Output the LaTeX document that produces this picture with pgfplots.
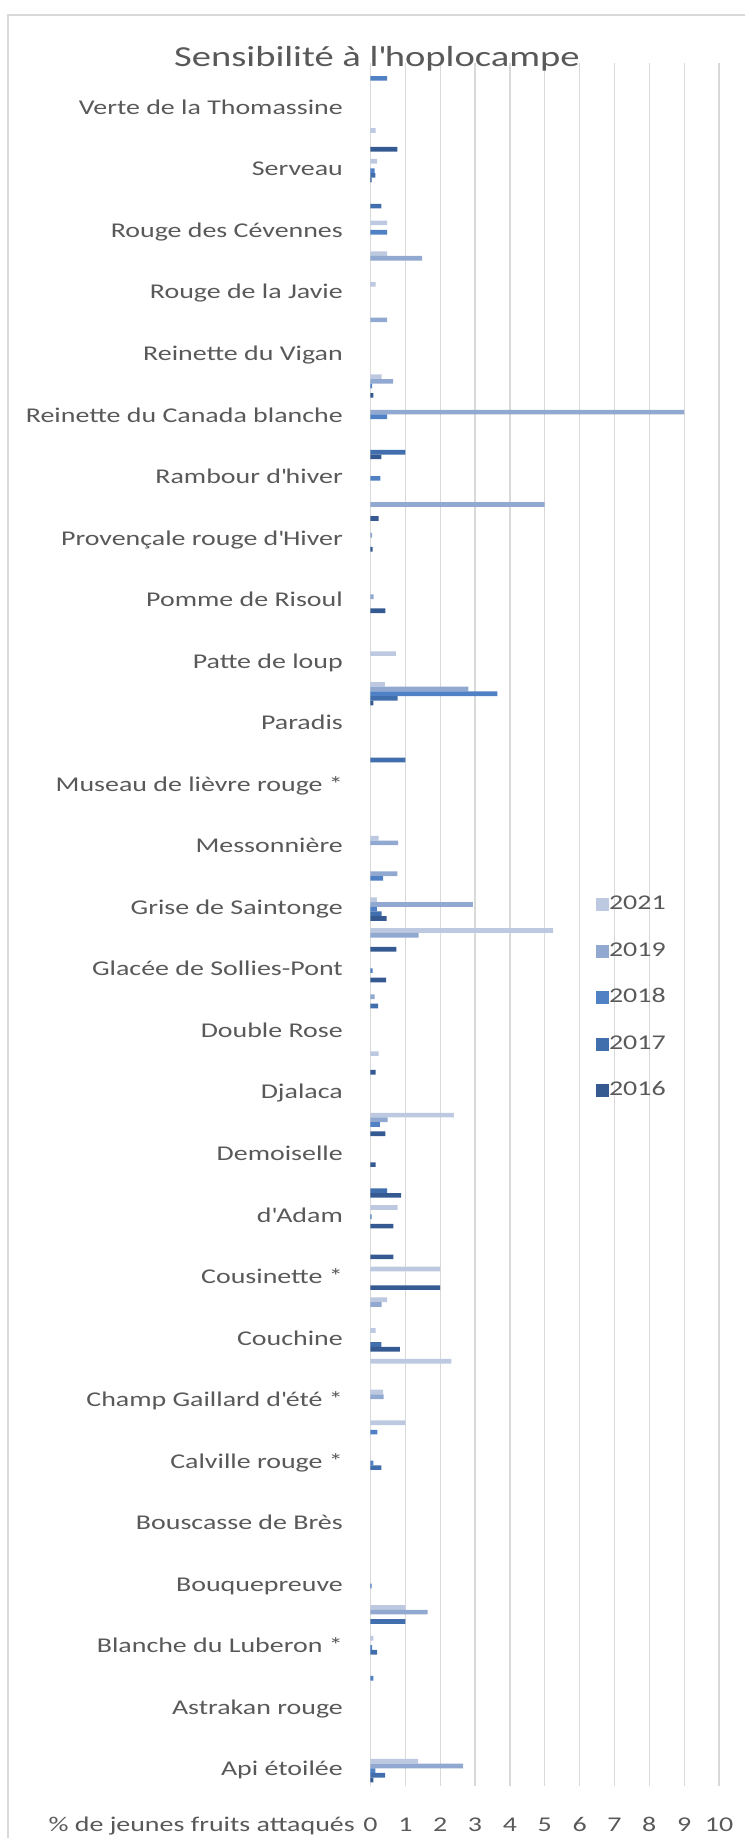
\documentclass[border=0pt]{standalone}
\usepackage{pgfplots}
\pgfplotsset{compat=1.18}
\usepackage{fontspec}
\setmainfont{Carlito}[FakeStretch=1.33]
\definecolor{c2021}{RGB}{189,201,225}
\definecolor{c2019}{RGB}{145,168,208}
\definecolor{c2018}{RGB}{79,129,196}
\definecolor{c2017}{RGB}{65,110,172}
\definecolor{c2016}{RGB}{53,90,146}
\definecolor{txt}{RGB}{89,89,89}
\definecolor{gridc}{RGB}{217,217,217}
\newcommand{\q}{\textquotesingle}
\begin{document}
\begin{tikzpicture}
\path[use as bounding box] (-370.5pt,-52pt) rectangle (373.5pt,1786pt);
\draw[gridc, line width=1.5pt] (-362.5pt,-80pt) -- (-362.5pt,1771pt) -- (400pt,1771pt);
\begin{axis}[
  at={(0pt,0pt)}, anchor=south west,
  scale only axis, width=348.5pt, height=1723pt,
  xbar, bar width=0.1517,
  xmin=0, xmax=10, ymin=0.5, ymax=56.5,
  xtick={0,1,...,10},
  ytick={1,3,...,55},
  yticklabels={Api étoilée, Astrakan rouge, Blanche du Luberon *, Bouquepreuve, Bouscasse de Brès, Calville rouge *, Champ Gaillard d\q été *, Couchine, Cousinette *, d\q Adam, Demoiselle, Djalaca, Double Rose, Glacée de Sollies-Pont, Grise de Saintonge, Messonnière, Museau de lièvre rouge *, Paradis, Patte de loup, Pomme de Risoul, Provençale rouge d\q Hiver, Rambour d\q hiver, Reinette du Canada blanche, Reinette du Vigan, Rouge de la Javie, Rouge des Cévennes, Serveau, Verte de la Thomassine},
  axis line style={draw=none},
  major tick length=0pt,
  tick style={draw=none},
  xmajorgrids, grid style={gridc, line width=1.3pt},
  /pgf/number format/assume math mode=true,
  ticklabel style={font=\fontsize{21}{25}\selectfont, text=txt},
  yticklabel style={anchor=east, inner sep=0pt, xshift=-27.5pt, text height=15.75pt, text depth=5.25pt},
  xticklabel style={anchor=base, inner sep=0pt, yshift=-45.5pt},
  legend style={at={(0.638,0.518)}, anchor=north west, draw=none, fill=none,
    font=\fontsize{21}{25}\selectfont, text=txt, row sep=31pt,
    nodes={inner sep=0pt, text height=14pt, text depth=0pt},
    /tikz/every even column/.append style={column sep=6pt}},
  legend cell align=left,
  mybar/.style={draw=none, fill=#1,
    legend image code/.code={\path[fill=#1, draw=none] (0pt,-8.5pt) rectangle (13pt,4.5pt);}},
  clip=false,
]
\addplot[mybar=c2021, bar shift=0.3034] coordinates {(1.37,1) (0.08,5) (1.0,6) (1.0,12) (0.36,13) (2.32,14) (0.15,15) (0.48,16) (2.0,17) (0.78,19) (2.39,22) (0.23,24) (5.24,28) (0.18,29) (0.23,31) (0.41,36) (0.73,37) (0.32,46) (0.15,49) (0.48,50) (0.48,51) (0.19,53) (0.15,54)};
\addlegendentry{2021}
\addplot[mybar=c2019, bar shift=0.1517] coordinates {(2.66,1) (1.64,6) (0.38,13) (0.32,16) (0.49,22) (0.12,26) (1.38,28) (2.94,29) (0.77,30) (0.79,31) (2.81,36) (0.09,39) (0.05,41) (5.0,42) (9.0,45) (0.65,46) (0.48,48) (1.48,50)};
\addlegendentry{2019}
\addplot[mybar=c2018, bar shift=0] coordinates {(0.14,1) (0.08,4) (0.05,5) (0.03,7) (0.08,11) (0.2,12) (0.03,19) (0.27,22) (0.06,27) (0.18,29) (0.36,30) (3.64,36) (0.28,43) (0.48,45) (0.05,46) (0.48,51) (0.12,53) (0.48,56)};
\addlegendentry{2018}
\addplot[mybar=c2017, bar shift=-0.1517] coordinates {(0.42,1) (0.19,5) (1.0,6) (0.31,11) (0.31,15) (0.48,20) (0.22,26) (0.32,29) (1.0,34) (0.78,36) (1.0,44) (0.31,52) (0.14,53)};
\addlegendentry{2017}
\addplot[mybar=c2016, bar shift=-0.3034] coordinates {(0.08,1) (0.84,15) (2.0,17) (0.66,18) (0.66,19) (0.88,20) (0.15,21) (0.43,22) (0.15,24) (0.45,27) (0.74,28) (0.46,29) (0.08,36) (0.43,39) (0.06,41) (0.23,42) (0.31,44) (0.08,46) (0.03,53) (0.77,54)};
\addlegendentry{2016}
\node[anchor=base east, inner sep=0pt, font=\fontsize{21}{25}\selectfont, text=txt] at ([xshift=-15.5pt, yshift=-45.5pt]rel axis cs:0,0) {\% de jeunes fruits attaqués};
\node[anchor=base, inner sep=0pt, font=\fontsize{29}{34}\selectfont, text=txt] at ([xshift=6.5pt, yshift=-3.7pt]rel axis cs:0,1) {Sensibilité à l\q hoplocampe};
\end{axis}
\end{tikzpicture}
\end{document}
